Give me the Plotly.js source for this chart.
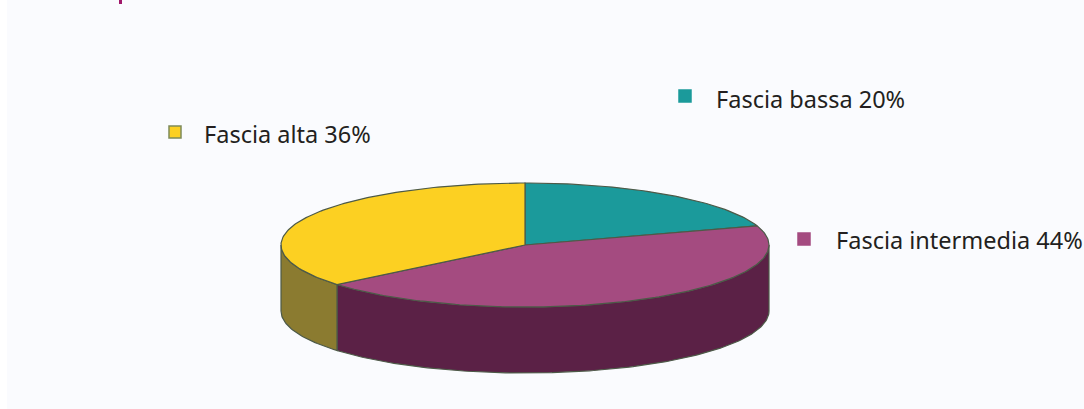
<!DOCTYPE html>
<html>
<head>
<meta charset="utf-8">
<script src="https://cdn.plot.ly/plotly-3.0.1.min.js"></script>
<style>html,body{margin:0;padding:0;background:#fafbfe;}#chart{width:1084px;height:409px;}</style>
</head>
<body>
<div id="chart"></div>
<script>
// ---- data ----
const labels = ["Fascia bassa", "Fascia intermedia", "Fascia alta"];
const values = [20, 44, 36];
const topColors = ["#1b9a9b", "#a44b80", "#fcd022"];
const sideColors = ["#0f5e5f", "#5b2146", "#8b7b30"];

// ---- geometry (layout, in pixel units of the axes) ----
const cx = 525, cy = 245, rx = 244, ry = 62, depth = 66;
const labelPos = [
  {mx: 685, my: 96, tx: 714, ty: 99},
  {mx: 804, my: 239, tx: 834, ty: 240},
  {mx: 175, my: 132, tx: 202, ty: 134}
];
const edge = "#4d5a48";

function pt(deg, dy) {
  const r = deg * Math.PI / 180;
  return [cx + rx * Math.cos(r), cy - ry * Math.sin(r) + dy];
}
function arc(from, to, dy) {
  const n = Math.max(2, Math.ceil(Math.abs(to - from)));
  const xs = [], ys = [];
  for (let i = 0; i <= n; i++) {
    const p = pt(from + (to - from) * i / n, dy);
    xs.push(p[0]); ys.push(p[1]);
  }
  return [xs, ys];
}

const total = values.reduce((a, b) => a + b, 0);
const sides = [], tops = [];
let a1 = 90;
values.forEach((v, i) => {
  const a2 = a1 - 360 * v / total;
  const t = arc(a1, a2, 0);
  tops.push({
    type: "scatter", mode: "lines", fill: "toself",
    x: [cx].concat(t[0], [cx]), y: [cy].concat(t[1], [cy]),
    fillcolor: topColors[i], line: {color: edge, width: 1.2},
    hoverinfo: "skip", showlegend: false
  });
  for (let k = -1; k <= 1; k++) {
    const lo = Math.max(a2 + 360 * k, -180), hi = Math.min(a1 + 360 * k, 0);
    if (hi > lo) {
      const up = arc(hi, lo, 0), dn = arc(lo, hi, depth);
      const xs = up[0].concat(dn[0]), ys = up[1].concat(dn[1]);
      xs.push(xs[0]); ys.push(ys[0]);
      sides.push({
        type: "scatter", mode: "lines", fill: "toself",
        x: xs, y: ys, fillcolor: sideColors[i],
        line: {color: edge, width: 1.2},
        hoverinfo: "skip", showlegend: false
      });
    }
  }
  a1 = a2;
});

const markers = {
  type: "scatter", mode: "markers",
  x: labelPos.map(p => p.mx), y: labelPos.map(p => p.my),
  marker: {symbol: "square", size: 12, color: topColors,
           line: {color: ["#1b9a9b", "#a44b80", "#7d8a5a"], width: 1.5}},
  hoverinfo: "skip", showlegend: false
};

const annotations = labels.map((l, i) => ({
  x: labelPos[i].tx, y: labelPos[i].ty, xref: "x", yref: "y",
  xanchor: "left", yanchor: "middle", showarrow: false,
  text: l + " " + values[i] + "%",
  font: {family: "Noto Sans, Open Sans, sans-serif", size: 23.5, color: "#231f20"}
}));

const layout = {
  width: 1084, height: 409,
  margin: {l: 0, r: 0, t: 0, b: 0},
  paper_bgcolor: "#fafbfe", plot_bgcolor: "rgba(0,0,0,0)",
  xaxis: {range: [0, 1084], visible: false, fixedrange: true},
  yaxis: {range: [409, 0], visible: false, fixedrange: true},
  annotations: annotations,
  shapes: [
    {type: "rect", xref: "x", yref: "y", x0: 0, x1: 7, y0: 0, y1: 409,
     fillcolor: "#ffffff", line: {width: 0}, layer: "below"},
    {type: "rect", xref: "x", yref: "y", x0: 119, x1: 122, y0: 0, y1: 4,
     fillcolor: "#a0186a", line: {width: 0}, layer: "below"}
  ],
  showlegend: false
};

Plotly.newPlot("chart", sides.concat(tops, [markers]), layout, {staticPlot: true, displayModeBar: false});
</script>
</body>
</html>
